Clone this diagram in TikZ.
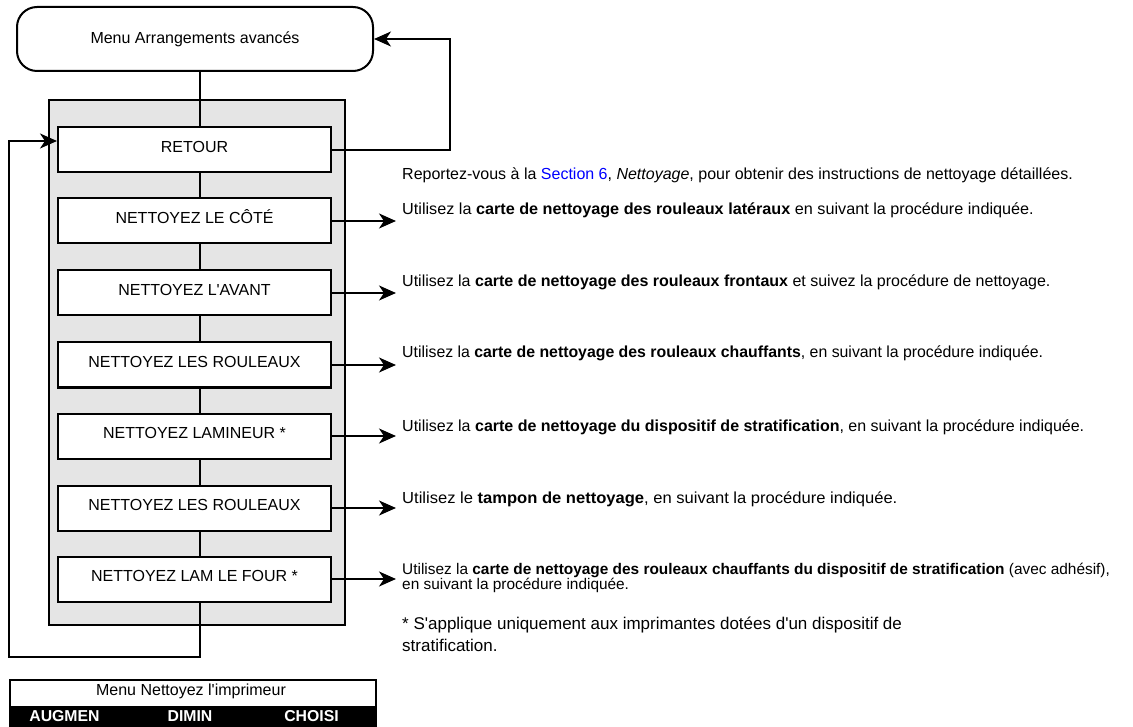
\documentclass[tikz,border=0pt]{standalone}
\usepackage{fontspec}
\setmainfont{Liberation Sans}
\usetikzlibrary{arrows.meta,calc}

\newcommand{\apos}{\textquotesingle}

\tikzset{
  trait/.style={line width=2pt},
  fleche/.style={line width=2pt, -{Stealth[length=17pt,width=15pt,inset=5pt]}},
  boite/.style={draw, line width=2pt, fill=white, minimum width=273pt, minimum height=45pt,
    text height=12pt, text depth=7.5pt, inner sep=0pt, font=\fontsize{16}{18}\selectfont},
  texte/.style={anchor=west, inner sep=0pt, align=left, font=\fontsize{16}{18}\selectfont},
}

\begin{document}
\begin{tikzpicture}[x=1pt,y=1pt]
    \useasboundingbox (0,0) rectangle (1133,-727);

    % Menu de depart
    \node[draw, trait, rounded corners=20pt, minimum width=356pt, minimum height=64pt,
      font=\fontsize{16}{18}\selectfont] (menu) at (195,-39) {Menu Arrangements avancés};

    % Panneau gris
    \fill[black!10] (49,-100) rectangle (345,-625);
    \draw[trait] (49,-100) rectangle (345,-625);

    % Les 7 choix du menu
    \node[boite] (retour) at (194.5,-150) {RETOUR};
    \node[boite] (cote) at (194.5,-221) {NETTOYEZ LE CÔTÉ};
    \node[boite] (avant) at (194.5,-293) {NETTOYEZ L\apos AVANT};
    \node[boite] (rouleaux) at (194.5,-365) {NETTOYEZ LES ROULEAUX};
    \node[boite] (lamineur) at (194.5,-436) {NETTOYEZ LAMINEUR *};
    \node[boite] (tampon) at (194.5,-508) {NETTOYEZ LES ROULEAUX};
    \node[boite] (four) at (194.5,-579) {NETTOYEZ LAM LE FOUR *};

    % Liaisons verticales
    \coordinate (axe) at (200,0);
    \draw[trait] (menu.south -| axe) -- (retour.north -| axe);
    \foreach \a/\b in {retour/cote, cote/avant, avant/rouleaux, rouleaux/lamineur, lamineur/tampon, tampon/four}
        \draw[trait] (\a.south -| axe) -- (\b.north -| axe);

    % Retour vers le menu
    \coordinate (d) at (450,-39);
    \draw[fleche] (retour.east) -| (d) -- (menu.east);

    % Boucle de gauche
    \coordinate (g1) at (9,-657);
    \coordinate (g2) at (9,-141);
    \draw[fleche] (four.south -| axe) |- (g1) -- (g2) -- (retour.west |- g2);

    % Fleches vers les instructions
    \foreach \b in {cote, avant, rouleaux, lamineur, tampon, four}
        \draw[fleche] (\b.east) -- ++(64,0);

    % Instructions
    \node[texte] (info) at (402,-175) {Reportez-vous à la \textcolor{blue}{Section 6}, \textit{Nettoyage}, pour obtenir des instructions de nettoyage détaillées.};
    \node[texte] (t1) at (402,-210) {\scalebox{1.013}[1]{Utilisez la \textbf{carte de nettoyage des rouleaux latéraux} en suivant la procédure indiquée.}};
    \node[texte] (t2) at (402,-282) {Utilisez la \textbf{carte de nettoyage des rouleaux frontaux} et suivez la procédure de nettoyage.};
    \node[texte] (t3) at (402,-353) {\scalebox{0.99}[1]{Utilisez la \textbf{carte de nettoyage des rouleaux chauffants}, en suivant la procédure indiquée.}};
    \node[texte] (t4) at (402,-427) {Utilisez la \textbf{carte de nettoyage du dispositif de stratification}, en suivant la procédure indiquée.};
    \node[texte] (t5) at (402,-499) {\scalebox{1.035}[1]{Utilisez le \textbf{tampon de nettoyage}, en suivant la procédure indiquée.}};
    \node[texte, font=\fontsize{15.4}{15.5}\selectfont] (t6) at (402,-578) {Utilisez la \textbf{carte de nettoyage des rouleaux chauffants du dispositif de stratification} (avec adhésif),\\en suivant la procédure indiquée.};
    \node[texte, font=\fontsize{17}{22}\selectfont] (note) at (402,-634) {* S\apos applique uniquement aux imprimantes dotées d\apos un dispositif de\\stratification.};

    % Menu du bas
    \node[draw, trait, anchor=north west, minimum width=366pt, minimum height=48pt] (bas) at (9,-679) {};
    \fill (bas.south west) rectangle ($(bas.south east)+(0,23)$);
    \node[font=\fontsize{16}{18}\selectfont] (titre) at (191,-691.5) {Menu Nettoyez l\apos imprimeur};
    \node[font=\fontsize{15.8}{18}\selectfont\bfseries, text=white] (augmen) at (64.5,-716) {AUGMEN};
    \node[font=\fontsize{15.8}{18}\selectfont\bfseries, text=white] (dimin) at (190,-716) {DIMIN};
    \node[font=\fontsize{15.8}{18}\selectfont\bfseries, text=white] (choisi) at (311.5,-716) {CHOISI};
\end{tikzpicture}
\end{document}
